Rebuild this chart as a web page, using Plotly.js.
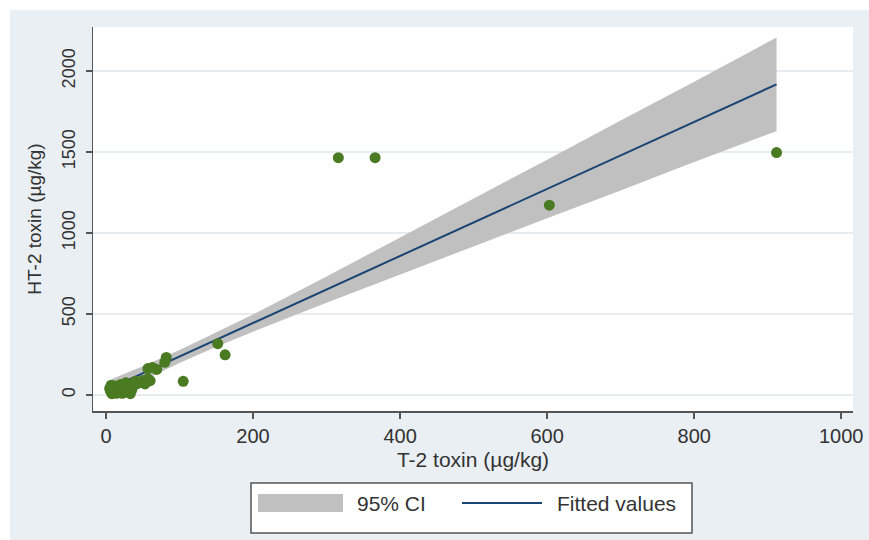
<!DOCTYPE html>
<html>
<head>
<meta charset="utf-8">
<script src="https://cdn.plot.ly/plotly-3.0.1.min.js"></script>
<style>
html,body{margin:0;padding:0;background:#ffffff;}
#chart{position:absolute;left:10px;top:10px;width:859px;height:530px;}
</style>
</head>
<body>
<div id="chart"></div>
<script>
// Observed points (T-2 toxin, HT-2 toxin)
const t2 = [316, 366, 912, 603, 152, 162, 105, 82, 80, 57, 69, 63, 50, 57, 42, 46, 53, 60,
            5, 8, 15, 23, 30, 33, 37, 10, 12, 18, 20, 25, 27, 35, 7, 14, 22, 28, 32, 6, 40];
const ht2 = [1465, 1465, 1497, 1172, 317, 248, 84, 232, 202, 163, 158, 170, 90, 100, 70, 76, 68, 88,
             40, 8, 45, 58, 38, 8, 55, 25, 55, 20, 65, 30, 75, 30, 60, 10, 10, 60, 20, 25, 85];
// Fitted regression line
const fitX = [8, 912];
const fitY = [47, 1918];
// 95% confidence band
const ciX = [8, 50, 100, 150, 200, 300, 400, 500, 600, 700, 800, 912];
const ciLow = [-4, 90, 197, 297, 391, 570, 745, 918, 1091, 1263, 1438, 1629];
const ciHigh = [98, 177, 277, 385, 497, 732, 971, 1212, 1453, 1695, 1934, 2207];
// Axis ticks
const xTicks = [0, 200, 400, 600, 800, 1000];
const yTicks = [0, 500, 1000, 1500, 2000];
// Legend labels
const legendLabels = ['95% CI', 'Fitted values'];

const FONT = "Liberation Sans, Arial, sans-serif";
const CI_COLOR = '#c0c0c0';
const FIT_COLOR = '#1a4472';

// Plot area in div pixels: x 83..843, y 17..401
const px = d => (d - 83) / 760;
const py = d => 1 - (d - 17) / 384;

const traces = [
  {x: ciX, y: ciLow, type: 'scatter', mode: 'lines', line: {width: 0, color: CI_COLOR},
   showlegend: false, hoverinfo: 'skip'},
  {x: ciX, y: ciHigh, type: 'scatter', mode: 'lines', line: {width: 0, color: CI_COLOR},
   fill: 'tonexty', fillcolor: CI_COLOR, name: legendLabels[0], showlegend: false},
  {x: fitX, y: fitY, type: 'scatter', mode: 'lines', line: {width: 2, color: FIT_COLOR},
   name: legendLabels[1], showlegend: false},
  {x: t2, y: ht2, type: 'scatter', mode: 'markers', showlegend: false,
   marker: {size: 11, color: '#4a7a22', line: {width: 0}}}
];

const layout = {
  width: 859, height: 530,
  margin: {l: 83, r: 16, t: 17, b: 129},
  paper_bgcolor: '#e9eff3',
  plot_bgcolor: '#ffffff',
  font: {family: FONT, size: 16, color: '#333333'},
  showlegend: false,
  xaxis: {
    range: [-17.7, 1016], tickvals: xTicks, ticktext: xTicks.map(String),
    showgrid: false, zeroline: false, showline: true, linecolor: '#555555', linewidth: 1.5,
    ticks: 'outside', ticklen: 6, tickcolor: '#555555', tickwidth: 1.5,
    tickfont: {size: 20, family: FONT, color: '#333333'},
    title: {text: 'T-2 toxin (µg/kg)', font: {size: 21, family: FONT, color: '#333333'}, standoff: 7}
  },
  yaxis: {
    range: [-99, 2272], tickvals: yTicks, ticktext: yTicks.map(String),
    showgrid: true, gridcolor: '#e6ecf0', gridwidth: 1.5, zeroline: false,
    showline: true, linecolor: '#555555', linewidth: 1.5,
    ticks: 'outside', ticklen: 6, tickcolor: '#555555', tickwidth: 1.5, tickangle: -90,
    ticklabelstandoff: 3,
    tickfont: {size: 18, family: FONT, color: '#333333'},
    title: {text: 'HT-2 toxin (µg/kg)', font: {size: 19, family: FONT, color: '#333333'}, standoff: 12}
  },
  shapes: [
    {type: 'rect', xref: 'paper', yref: 'paper',
     x0: px(241), x1: px(682), y0: py(523), y1: py(473),
     line: {color: '#555555', width: 1.5}, fillcolor: '#ffffff', layer: 'below'},
    {type: 'rect', xref: 'paper', yref: 'paper',
     x0: px(248), x1: px(333), y0: py(502), y1: py(484),
     line: {width: 0}, fillcolor: CI_COLOR, layer: 'above'},
    {type: 'line', xref: 'paper', yref: 'paper',
     x0: px(452), x1: px(532), y0: py(493), y1: py(493),
     line: {color: FIT_COLOR, width: 2}}
  ],
  annotations: [
    {text: legendLabels[0], xref: 'paper', yref: 'paper', x: px(345), y: py(493),
     xanchor: 'left', yanchor: 'middle', showarrow: false,
     font: {size: 21, family: FONT, color: '#333333'}},
    {text: legendLabels[1], xref: 'paper', yref: 'paper', x: px(545), y: py(493),
     xanchor: 'left', yanchor: 'middle', showarrow: false,
     font: {size: 21, family: FONT, color: '#333333'}}
  ]
};

Plotly.newPlot('chart', traces, layout, {displayModeBar: false, staticPlot: true});
</script>
</body>
</html>
